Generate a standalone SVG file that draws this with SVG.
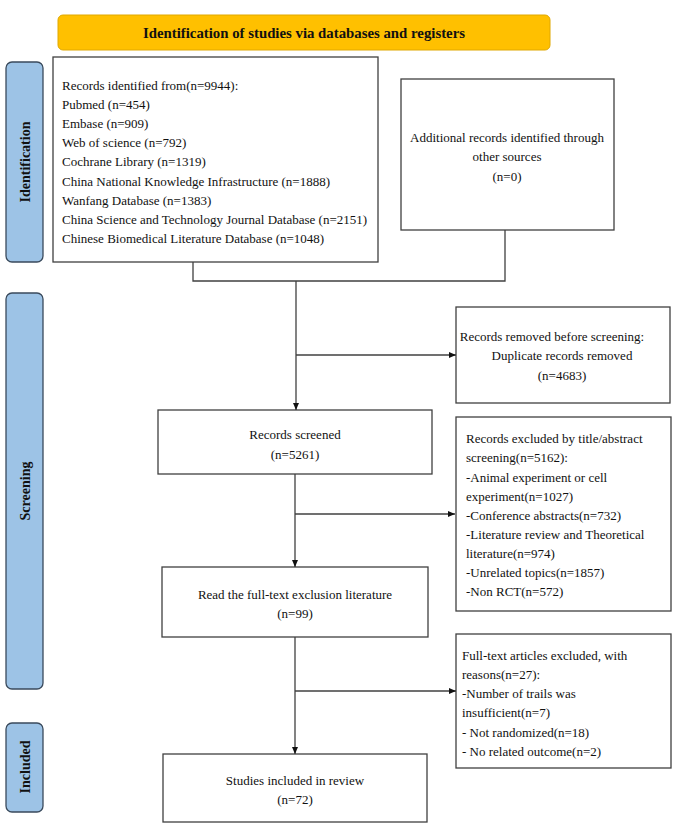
<svg xmlns="http://www.w3.org/2000/svg" width="680" height="826" viewBox="0 0 680 826">
<defs>
<style>
.box{fill:#fff;stroke:#404040;stroke-width:1.3}
.side{fill:#9DC3E6;stroke:#3A4A5C;stroke-width:1.3}
.t{font-family:"Liberation Serif","Times New Roman",serif;font-size:13px;fill:#111}
.c{text-anchor:middle}
.b{font-family:"Liberation Serif","Times New Roman",serif;font-size:14px;font-weight:bold;fill:#111;text-anchor:middle}
.ln{fill:none;stroke:#404040;stroke-width:1.3}
</style>
<marker id="ah" markerWidth="8" markerHeight="8" refX="7" refY="4" orient="auto" markerUnits="userSpaceOnUse">
<path d="M0,1 L7,4 L0,7 Z" fill="#111"/>
</marker>
</defs>
<rect width="680" height="826" fill="#fff"/>

<g id="title">
<rect x="58" y="15" width="492" height="35" rx="5" fill="#FFC000" stroke="#E0A800" stroke-width="1"/>
<text class="b" x="304" y="38" style="font-size:14.8px">Identification of studies via databases and registers</text>
</g>

<g id="side-identification">
<rect class="side" x="6" y="62" width="37" height="200" rx="6"/>
<text class="b" transform="translate(30,162) rotate(-90)">Identification</text>
</g>
<g id="side-screening">
<rect class="side" x="6" y="293" width="37" height="396" rx="6"/>
<text class="b" transform="translate(30,491) rotate(-90)">Screening</text>
</g>
<g id="side-included">
<rect class="side" x="6" y="723" width="37" height="89" rx="6"/>
<text class="b" transform="translate(30,767) rotate(-90)">Included</text>
</g>

<g id="records-identified">
<rect class="box" x="53" y="57" width="325" height="205"/>
<text class="t" x="62" y="90">Records identified from(n=9944):</text>
<text class="t" x="62" y="109">Pubmed (n=454)</text>
<text class="t" x="62" y="128">Embase (n=909)</text>
<text class="t" x="62" y="147">Web of science (n=792)</text>
<text class="t" x="62" y="166">Cochrane Library (n=1319)</text>
<text class="t" x="62" y="185.5">China National Knowledge Infrastructure (n=1888)</text>
<text class="t" x="62" y="204.5">Wanfang Database (n=1383)</text>
<text class="t" x="62" y="223.5">China Science and Technology Journal Database (n=2151)</text>
<text class="t" x="62" y="242.5">Chinese Biomedical Literature Database (n=1048)</text>
</g>

<g id="additional-records">
<rect class="box" x="401" y="79" width="213" height="151"/>
<text class="t c" x="507" y="141.5">Additional records identified through</text>
<text class="t c" x="507" y="161">other sources</text>
<text class="t c" x="507" y="181">(n=0)</text>
</g>

<g id="duplicates-removed">
<rect class="box" x="456" y="307" width="214" height="96"/>
<text class="t c" x="552" y="340.5">Records removed before screening:</text>
<text class="t c" x="562" y="359.5">Duplicate records removed</text>
<text class="t c" x="562" y="379.5">(n=4683)</text>
</g>

<g id="records-screened">
<rect class="box" x="158" y="410" width="274" height="64"/>
<text class="t c" x="295" y="438.5">Records screened</text>
<text class="t c" x="295" y="458.5">(n=5261)</text>
</g>

<g id="records-excluded">
<rect class="box" x="456" y="417" width="215" height="194"/>
<text class="t" x="466" y="443">Records excluded by title/abstract</text>
<text class="t" x="466" y="462">screening(n=5162):</text>
<text class="t" x="466" y="481.5">-Animal experiment or cell</text>
<text class="t" x="466" y="500.5">experiment(n=1027)</text>
<text class="t" x="466" y="520">-Conference abstracts(n=732)</text>
<text class="t" x="466" y="538.5">-Literature review and Theoretical</text>
<text class="t" x="466" y="557.5">literature(n=974)</text>
<text class="t" x="466" y="577">-Unrelated topics(n=1857)</text>
<text class="t" x="466" y="596">-Non RCT(n=572)</text>
</g>

<g id="full-text-read">
<rect class="box" x="162" y="567" width="266" height="70"/>
<text class="t c" x="295" y="598.5">Read the full-text exclusion literature</text>
<text class="t c" x="295" y="617.5">(n=99)</text>
</g>

<g id="full-text-excluded">
<rect class="box" x="456" y="634" width="215" height="134"/>
<text class="t" x="462" y="659.5">Full-text articles excluded, with</text>
<text class="t" x="462" y="679">reasons(n=27):</text>
<text class="t" x="462" y="698">-Number of trails was</text>
<text class="t" x="462" y="717">insufficient(n=7)</text>
<text class="t" x="462" y="737">- Not randomized(n=18)</text>
<text class="t" x="462" y="756">- No related outcome(n=2)</text>
</g>

<g id="studies-included">
<rect class="box" x="163" y="754" width="264" height="68"/>
<text class="t c" x="295" y="784.5">Studies included in review</text>
<text class="t c" x="295" y="804">(n=72)</text>
</g>

<g id="connectors">
<polyline class="ln" points="193,262 193,281 505,281 505,230"/>
<line class="ln" x1="296" y1="281" x2="296" y2="410" marker-end="url(#ah)"/>
<line class="ln" x1="296" y1="355" x2="456" y2="355" marker-end="url(#ah)"/>
<line class="ln" x1="295" y1="474" x2="295" y2="567" marker-end="url(#ah)"/>
<line class="ln" x1="295" y1="514" x2="455" y2="514" marker-end="url(#ah)"/>
<line class="ln" x1="295" y1="637" x2="295" y2="754" marker-end="url(#ah)"/>
<line class="ln" x1="295" y1="691" x2="456" y2="691" marker-end="url(#ah)"/>
</g>
</svg>
